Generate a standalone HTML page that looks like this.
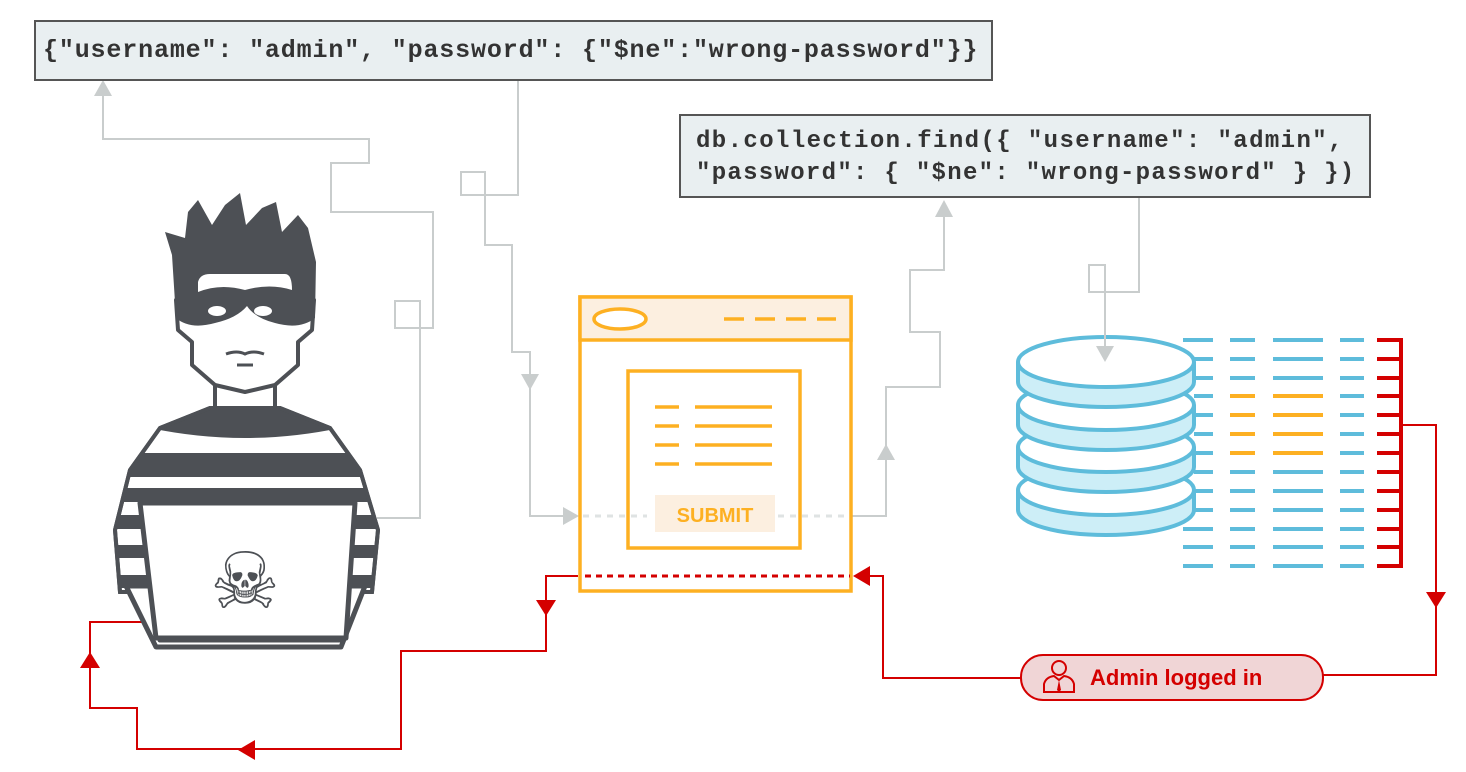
<!DOCTYPE html>
<html><head><meta charset="utf-8"><style>
html,body{margin:0;padding:0;background:#fff;}
svg{display:block;}
.mono{font-family:"Liberation Mono",monospace;font-weight:bold;fill:#333;}
</style></head><body>
<svg width="1466" height="772" viewBox="0 0 1466 772" xmlns="http://www.w3.org/2000/svg">
<!-- gray connectors -->
<g fill="none" stroke="#c9cdcd" stroke-width="2">
<path d="M377 518 H420 V301 H395 V328 H433 V212 H331 V163 H369 V139 H103 V92"/>
<path d="M518 80 V195 H461 V172 H485 V245 H512 V352 H530 V516 H570"/>
<path d="M847 516 H886 V387 H940 V332 H910 V270 H944 V212"/>
<path d="M1139 198 V292 H1089 V265 H1105 V350"/>
</g>
<g fill="#c9cdcd">
<polygon points="103,80 94,96 112,96"/>
<polygon points="530,390 521,374 539,374"/>
<polygon points="579,516 563,507 563,525"/>
<polygon points="886,444 877,460 895,460"/>
<polygon points="944,200 935,217 953,217"/>
</g>
<!-- code boxes -->
<rect x="35" y="21" width="957" height="59" fill="#e9eff1" stroke="#555" stroke-width="2"/>
<text x="43" y="57" class="mono" font-size="25" letter-spacing="0.85">{"username": "admin", "password": {"$ne":"wrong-password"}}</text>
<rect x="680" y="115" width="690" height="82" fill="#e9eff1" stroke="#555" stroke-width="2"/>
<text x="696" y="147" class="mono" font-size="24" letter-spacing="1.4">db.collection.find({ "username": "admin",</text>
<text x="696" y="179" class="mono" font-size="24" letter-spacing="1.3">"password": { "$ne": "wrong-password" } })</text>

<!-- browser -->
<g stroke="#fdb022" stroke-width="3.5">
<rect x="580" y="297" width="271" height="294" fill="#fff"/>
<rect x="580" y="297" width="271" height="43" fill="#fcefe0"/>
<ellipse cx="620" cy="319" rx="26" ry="10" fill="#fff"/>
<path d="M724 319 H836" stroke-dasharray="20 11"/>
<rect x="628" y="371" width="172" height="177" fill="#fff"/>
<path d="M655 407 H679 M695 407 H772 M655 426 H679 M695 426 H772 M655 445 H679 M695 445 H772 M655 464 H679 M695 464 H772"/>
</g>
<rect x="655" y="495" width="120" height="37" fill="#fcefe0"/>
<text x="715" y="522" text-anchor="middle" font-family="'Liberation Sans',sans-serif" font-weight="bold" font-size="20" fill="#fdb022">SUBMIT</text>
<path d="M583 516 H647 M778 516 H847" stroke="#dfe3e3" stroke-width="3" stroke-dasharray="6 6"/>
<path d="M585 576 H850" stroke="#d40000" stroke-width="3" stroke-dasharray="6 5"/>

<!-- red connectors -->
<g fill="none" stroke="#d40000" stroke-width="2">
<path d="M578 576 H546 V651 H401 V749 H137 V708 H90 V622 H155"/>
<path d="M1402 425 H1436 V675 H1323"/>
<path d="M1021 678 H883 V576 H865"/>
</g>
<g fill="#d40000">
<polygon points="546,616 536,600 556,600"/>
<polygon points="238,750 255,740 255,760"/>
<polygon points="90,652 80,668 100,668"/>
<polygon points="1436,608 1426,592 1446,592"/>
<polygon points="853,576 870,566 870,586"/>
</g>

<!-- badge -->
<rect x="1021" y="655" width="302" height="45" rx="22" fill="#f0d5d6" stroke="#d40000" stroke-width="2"/>
<g fill="none" stroke="#d40000" stroke-width="2">
<circle cx="1059" cy="668" r="7"/>
<path d="M1044 692 V684 Q1046 677 1054 676 L1059 680 L1064 676 Q1072 677 1074 684 V692 Z"/>
</g>
<path d="M1059 680 L1057 690 L1059 692 L1061 690 Z" fill="#d40000"/>
<text x="1090" y="685" font-family="'Liberation Sans',sans-serif" font-weight="bold" font-size="22" fill="#d40000">Admin logged in</text>

<!-- database -->
<g stroke="#5ebcdb" stroke-width="4">
<path d="M1018 490 V510 A88 25 0 0 0 1194 510 V490" fill="#cdeef7"/><ellipse cx="1106" cy="490" rx="88" ry="25" fill="#fff"/>
<path d="M1018 447 V467 A88 25 0 0 0 1194 467 V447" fill="#cdeef7"/><ellipse cx="1106" cy="447" rx="88" ry="25" fill="#fff"/>
<path d="M1018 405 V425 A88 25 0 0 0 1194 425 V405" fill="#cdeef7"/><ellipse cx="1106" cy="405" rx="88" ry="25" fill="#fff"/>
<path d="M1018 362 V382 A88 25 0 0 0 1194 382 V362" fill="#cdeef7"/><ellipse cx="1106" cy="362" rx="88" ry="25" fill="#fff"/>
</g>
<path d="M1105 330 V350" stroke="#c9cdcd" stroke-width="2"/>
<polygon points="1105,362 1096,346 1114,346" fill="#c9cdcd"/>
<g stroke-width="4">
<path stroke="#5ebcdb" d="M1183 340H1213M1230 340H1255M1273 340H1323M1340 340H1364
M1194 359H1213M1230 359H1255M1273 359H1323M1340 359H1364
M1194 378H1213M1230 378H1255M1273 378H1323M1340 378H1364
M1194 396H1213M1340 396H1364
M1194 415H1213M1340 415H1364
M1194 434H1213M1340 434H1364
M1194 453H1213M1340 453H1364
M1194 472H1213M1230 472H1255M1273 472H1323M1340 472H1364
M1194 491H1213M1230 491H1255M1273 491H1323M1340 491H1364
M1194 510H1213M1230 510H1255M1273 510H1323M1340 510H1364
M1183 529H1213M1230 529H1255M1273 529H1323M1340 529H1364
M1183 547H1213M1230 547H1255M1273 547H1323M1340 547H1364
M1183 566H1213M1230 566H1255M1273 566H1323M1340 566H1364"/>
<path stroke="#fdb022" d="M1230 396H1255M1273 396H1323M1230 415H1255M1273 415H1323M1230 434H1255M1273 434H1323M1230 453H1255M1273 453H1323"/>
<path stroke="#d40000" d="M1377 340H1402M1377 359H1402M1377 378H1402M1377 396H1402M1377 415H1402M1377 434H1402M1377 453H1402M1377 472H1402M1377 491H1402M1377 510H1402M1377 529H1402M1377 547H1402M1377 566H1402M1401 338V568"/>
</g>

<!-- hacker -->
<defs><clipPath id="shirt"><polygon points="160,428 210,408 280,408 330,428 360,470 378,530 372,592 120,592 115,530 130,470"/></clipPath></defs>
<g stroke="#4d5055" stroke-width="4" stroke-linejoin="round">
<path d="M215 370 V412 M275 370 V412" fill="none"/>
<polygon points="160,428 210,408 280,408 330,428 360,470 378,530 372,592 120,592 115,530 130,470" fill="#fff"/>
</g>
<g clip-path="url(#shirt)" fill="#4d5055">
<path d="M150 408 H340 V428 Q245 448 150 428 Z"/>
<rect x="100" y="453" width="300" height="24"/>
<rect x="100" y="488" width="300" height="14"/>
<rect x="100" y="515" width="300" height="14"/>
<rect x="100" y="545" width="300" height="13"/>
<rect x="100" y="575" width="300" height="13"/>
</g>
<polygon points="160,428 210,408 280,408 330,428 360,470 378,530 372,592 120,592 115,530 130,470" fill="none" stroke="#4d5055" stroke-width="4"/>
<path d="M176 300 L178 330 L192 342 L192 365 L215 385 L245 392 L275 385 L298 365 L298 342 L312 330 L314 300 Z" fill="#fff" stroke="#4d5055" stroke-width="4" stroke-linejoin="round"/>
<path d="M176 318 L172 255 L165 232 L185 238 L188 212 L198 200 L212 225 L225 205 L240 193 L246 225 L262 208 L276 202 L282 232 L298 215 L308 228 L316 262 L315 318 Q300 330 275 323 Q255 318 247 306 Q237 318 215 323 Q190 330 176 318 Z" fill="#4d5055"/>
<path d="M198 282 Q200 274 210 274 H285 Q292 274 292 290 Q270 283 245 290 Q220 283 198 292 Z" fill="#fff"/>
<ellipse cx="217" cy="311" rx="9" ry="5" fill="#fff"/>
<ellipse cx="263" cy="311" rx="9" ry="5" fill="#fff"/>
<path d="M226 354 Q237 350 245 354 Q253 350 264 354 M237 365 H253" stroke="#4d5055" stroke-width="3" fill="none"/>
<!-- laptop -->
<g stroke="#4d5055" stroke-width="5" stroke-linejoin="round" fill="#fff">
<polygon points="126,586 150,586 160,640 340,640 348,586 365,586 341,647 156,647"/>
<polygon points="140,503 355,503 346,638 156,638"/>
</g>
<text x="245" y="608" text-anchor="middle" font-family="DejaVu Sans,sans-serif" font-size="78" fill="#4d5055">☠</text>
</svg>
</body></html>
